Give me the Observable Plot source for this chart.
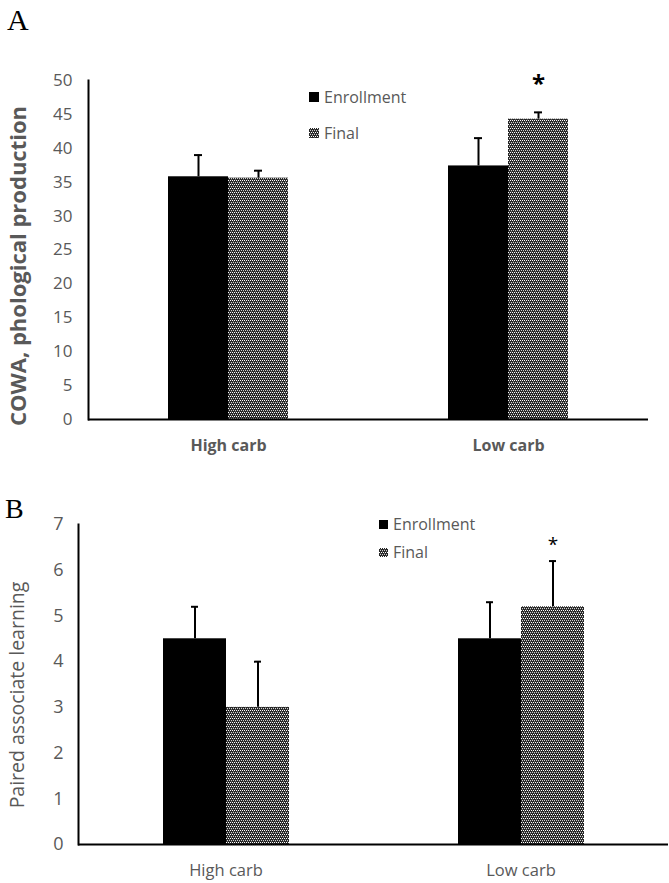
<!DOCTYPE html>
<html><head><meta charset="utf-8">
<script src="https://cdn.jsdelivr.net/npm/d3@7"></script>
<script src="https://cdn.jsdelivr.net/npm/@observablehq/plot@0.6"></script>
<style>
body{margin:0;background:#fff;}
#root{position:relative;width:669px;height:883px;overflow:hidden;font-family:"Open Sans",sans-serif;}
.letter{position:absolute;font-family:"Liberation Serif","Times New Roman",serif;color:#000;line-height:1;}
.ytitle{position:absolute;transform:translate(-50%,-50%) rotate(-90deg);white-space:nowrap;color:#595959;line-height:1;}
.leg{position:absolute;display:flex;align-items:center;color:#595959;white-space:nowrap;line-height:1;transform:translateY(-50%);}
.leg svg{margin-right:5px;display:block;}
</style></head><body><div id="root"></div>
<script>
const categories = ["High carb", "Low carb"];
const seriesNames = ["Enrollment", "Final"];

// Panel A: COWA, phonological production
const cowaEnrollment = [35.8, 37.4];
const cowaEnrollmentSE = [3.2, 4.1];
const cowaFinal = [35.6, 44.3];
const cowaFinalSE = [1.1, 1.0];
const cowaFinalSig = [false, true];
const cowaTicks = [0, 5, 10, 15, 20, 25, 30, 35, 40, 45, 50];

// Panel B: Paired associate learning
const palEnrollment = [4.5, 4.5];
const palEnrollmentSE = [0.7, 0.8];
const palFinal = [3.0, 5.2];
const palFinalSE = [1.0, 1.0];
const palFinalSig = [false, true];
const palTicks = [0, 1, 2, 3, 4, 5, 6, 7];

function rows(enr, enrSE, fin, finSE, finSig) {
  const out = [];
  categories.forEach((c, i) => {
    out.push({cat: c, series: seriesNames[0], value: enr[i], err: enr[i] + enrSE[i], sig: false});
    out.push({cat: c, series: seriesNames[1], value: fin[i], err: fin[i] + finSE[i], sig: finSig[i]});
  });
  return out;
}

function addPattern(svg, id) {
  const defs = d3.select(svg).insert("defs", ":first-child");
  const p = defs.append("pattern").attr("id", id).attr("width", 4).attr("height", 4)
    .attr("patternUnits", "userSpaceOnUse");
  p.append("rect").attr("width", 4).attr("height", 4).attr("fill", "#262626");
  [[0,0,"#ffffff"],[2,0,"#ffffff"],[1,2,"#d0d0d0"],[3,2,"#d0d0d0"],[1,1,"#555555"],[3,3,"#555555"]].forEach(([x,y,c]) =>
    p.append("rect").attr("x", x).attr("y", y).attr("width", 1).attr("height", 1).attr("fill", c));
}

function chart(o) {
  const svg = Plot.plot({
    width: 669, height: o.height,
    marginTop: o.mt, marginBottom: o.mb, marginLeft: o.ml, marginRight: o.mr,
    style: {fontFamily: "'Open Sans', sans-serif", background: "transparent", overflow: "visible"},
    fx: {domain: categories, padding: 0, label: null},
    x: {domain: seriesNames, paddingInner: 0, paddingOuter: o.po, axis: null},
    y: {domain: [0, o.ymax]},
    color: {domain: seriesNames, range: ["#000000", `url(#${o.pid})`]},
    marks: [
      Plot.barY(o.data, {fx: "cat", x: "series", y: "value", fill: "series"}),
      Plot.ruleX(o.data, {fx: "cat", x: "series", y1: "value", y2: "err", stroke: "#000", strokeWidth: 2}),
      Plot.tickY(o.data, {fx: "cat", x: "series", y: "err", stroke: "#000", strokeWidth: 2, insetLeft: o.cap, insetRight: o.cap}),
      Plot.text(o.data.filter(d => d.sig), {fx: "cat", x: "series", y: "err", text: () => "*", dy: o.starDy,
        fontSize: o.starSize, fontWeight: o.starWeight, fill: "#000"}),
      Plot.ruleY([0], {stroke: "#000", strokeWidth: 2}),
      Plot.frame({anchor: "left", facetAnchor: "left", stroke: "#000", strokeWidth: 2}),
      Plot.axisY({ticks: o.ticks, tickFormat: d => String(d), tickSize: 0, tickPadding: o.tp, label: null,
        fontSize: o.tickFont, fill: "#595959"}),
      Plot.axisFx({anchor: "bottom", tickSize: 0, tickPadding: o.fxPad, label: null, fontSize: o.fxFont,
        fontWeight: o.fxWeight, fill: "#595959"})
    ]
  });
  addPattern(svg, o.pid);
  return svg;
}

const root = document.getElementById("root");

const svgA = chart({
  data: rows(cowaEnrollment, cowaEnrollmentSE, cowaFinal, cowaFinalSE, cowaFinalSig),
  height: 470, mt: 80, mb: 51, ml: 88, mr: 21, po: 1.3333, ymax: 50, pid: "chkA",
  cap: 26, starDy: -28, starSize: 24, starWeight: "bold", ticks: cowaTicks, tp: 16, tickFont: 17,
  fxPad: 20, fxFont: 16, fxWeight: "bold"
});
svgA.style.position = "absolute"; svgA.style.left = "0px"; svgA.style.top = "0px";
root.appendChild(svgA);

const svgB = chart({
  data: rows(palEnrollment, palEnrollmentSE, palFinal, palFinalSE, palFinalSig),
  height: 413, mt: 54, mb: 39, ml: 78, mr: 1, po: 1.305, ymax: 7, pid: "chkB",
  cap: 28, starDy: -16, starSize: 19, starWeight: "normal", ticks: palTicks, tp: 15, tickFont: 18,
  fxPad: 20, fxFont: 16.5, fxWeight: "normal"
});
svgB.style.position = "absolute"; svgB.style.left = "0px"; svgB.style.top = "470px";
root.appendChild(svgB);

function addText(cls, txt, css) {
  const d = document.createElement("div");
  d.className = cls; d.textContent = txt;
  Object.assign(d.style, css);
  root.appendChild(d);
  return d;
}
addText("letter", "A", {left: "7px", top: "5px", fontSize: "30px"});
addText("letter", "B", {left: "5px", top: "495px", fontSize: "28px"});
addText("ytitle", "COWA, phological production", {left: "17px", top: "266px", fontSize: "22px", fontWeight: "bold"});
addText("ytitle", "Paired associate learning", {left: "17px", top: "695px", fontSize: "19.5px"});

function legendItem(name, fillRef, left, cy, fontSize, size) {
  const d = document.createElement("div");
  d.className = "leg";
  Object.assign(d.style, {left: left + "px", top: cy + "px", fontSize: fontSize + "px"});
  const s = d3.create("svg").attr("width", size).attr("height", size);
  s.append("rect").attr("width", size).attr("height", size).attr("fill", fillRef);
  d.appendChild(s.node());
  const t = document.createElement("span"); t.textContent = name;
  d.appendChild(t);
  root.appendChild(d);
}
legendItem(seriesNames[0], "#000", 309, 97, 16, 10);
legendItem(seriesNames[1], "url(#chkA)", 309, 133, 16, 10);
legendItem(seriesNames[0], "#000", 379, 524, 16, 9);
legendItem(seriesNames[1], "url(#chkA)", 379, 552, 16, 9);
</script></body></html>
